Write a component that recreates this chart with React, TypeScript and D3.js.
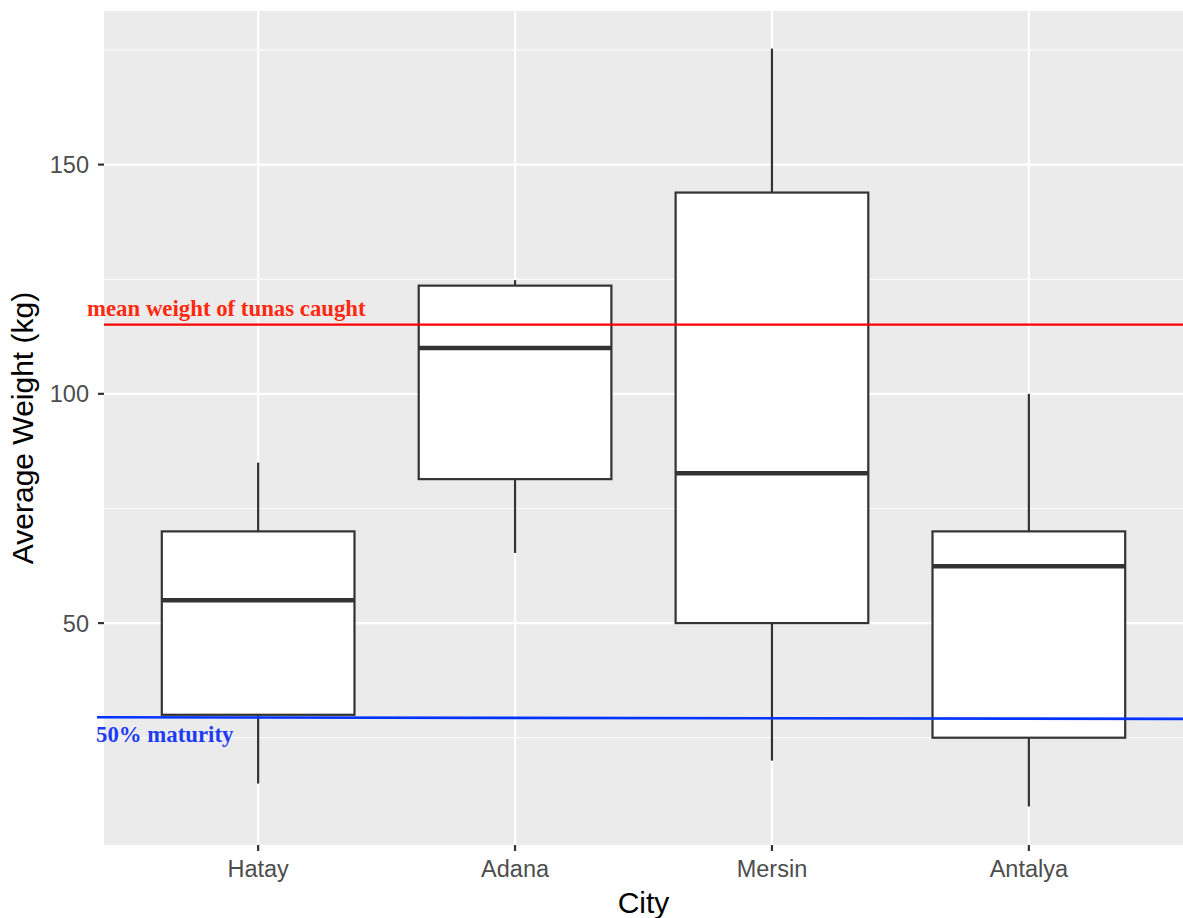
import React from 'react';
import * as d3 from 'd3';

const width = 1183;
const height = 918;
const margin = { top: 11, right: 0, bottom: 73, left: 104 };

// box stats
const cities = ['Hatay', 'Adana', 'Mersin', 'Antalya'];
const lowers = [15, 65.3, 20, 10];
const q1s = [30, 81.4, 50, 25];
const medians = [55, 110, 82.7, 62.4];
const q3s = [70, 123.6, 143.9, 70];
const uppers = [85, 124.8, 175.3, 100];

const yTicks = [50, 100, 150];
const yMinor = [25, 75, 125, 175];

const meanWeight = 115.1;
const maturityStart = 29.45;
const maturityEnd = 29.1;

const App = () => {
  const x = d3.scaleLinear()
    .domain([0.4, 4.6])
    .range([margin.left, width - margin.right]);
  const y = d3.scaleLinear()
    .domain([1.6, 183.5])
    .range([height - margin.bottom, margin.top]);

  const bw = 0.75 * (x(2) - x(1));
  const panelBottom = height - margin.bottom;
  const serif = "'Liberation Serif', 'Times New Roman', serif";

  return (
    <svg width={width} height={height} style={{ position: 'absolute', left: 0, top: 0 }}>
      <rect x={margin.left} y={margin.top} width={width - margin.left - margin.right}
        height={panelBottom - margin.top} fill="#ebebeb" />
      {/* grid */}
      {yMinor.map(v => (
        <line key={'m' + v} x1={margin.left} x2={width - margin.right} y1={y(v)} y2={y(v)}
          stroke="#fff" strokeWidth={1.1} />
      ))}
      {yTicks.map(v => (
        <line key={'g' + v} x1={margin.left} x2={width - margin.right} y1={y(v)} y2={y(v)}
          stroke="#fff" strokeWidth={2.2} />
      ))}
      {cities.map((c, i) => (
        <line key={'gx' + c} x1={x(i + 1)} x2={x(i + 1)} y1={margin.top} y2={panelBottom}
          stroke="#fff" strokeWidth={2.2} />
      ))}
      {/* boxes */}
      {cities.map((c, i) => {
        const cx = x(i + 1);
        return (
          <g key={c} stroke="#333" fill="none">
            <line x1={cx} x2={cx} y1={y(q3s[i])} y2={y(uppers[i])} strokeWidth={2.2} />
            <line x1={cx} x2={cx} y1={y(q1s[i])} y2={y(lowers[i])} strokeWidth={2.2} />
            <rect x={cx - bw / 2} y={y(q3s[i])} width={bw} height={y(q1s[i]) - y(q3s[i])}
              fill="#fff" strokeWidth={2.2} />
            <line x1={cx - bw / 2} x2={cx + bw / 2} y1={y(medians[i])} y2={y(medians[i])}
              strokeWidth={4.5} />
          </g>
        );
      })}
      {/* reference lines */}
      <line x1={margin.left} x2={width} y1={y(meanWeight)} y2={y(meanWeight)}
        stroke="#ff0000" strokeWidth={2.2} />
      <line x1={97} x2={width} y1={y(maturityStart)} y2={y(maturityEnd)}
        stroke="#0033ff" strokeWidth={2.6} />
      <text x={87} y={316} fill="#ff2a10" fontFamily={serif}
        fontWeight="bold" fontSize={22.8}>mean weight of tunas caught</text>
      <text x={96} y={742} fill="#1e3cf5" fontFamily={serif}
        fontWeight="bold" fontSize={22.8}>50% maturity</text>
      {/* axes */}
      <g fontFamily="'Liberation Sans', Arial, sans-serif">
        {yTicks.map(v => (
          <g key={'yt' + v}>
            <line x1={margin.left - 6} x2={margin.left} y1={y(v)} y2={y(v)} stroke="#333" strokeWidth={2.2} />
            <text x={margin.left - 15} y={y(v)} dy="0.36em" textAnchor="end" fontSize={23.5} fill="#4d4d4d">{v}</text>
          </g>
        ))}
        {cities.map((c, i) => (
          <g key={'xt' + c}>
            <line x1={x(i + 1)} x2={x(i + 1)} y1={panelBottom} y2={panelBottom + 6} stroke="#333" strokeWidth={2.2} />
            <text x={x(i + 1)} y={877} textAnchor="middle" fontSize={23.5} fill="#4d4d4d">{c}</text>
          </g>
        ))}
        <text x={(margin.left + width) / 2} y={913} textAnchor="middle" fontSize={30} fill="#000">City</text>
        <text transform={`translate(33, ${(margin.top + panelBottom) / 2}) rotate(-90)`} textAnchor="middle"
          fontSize={30} fill="#000">Average Weight (kg)</text>
      </g>
    </svg>
  );
};

export default App;
